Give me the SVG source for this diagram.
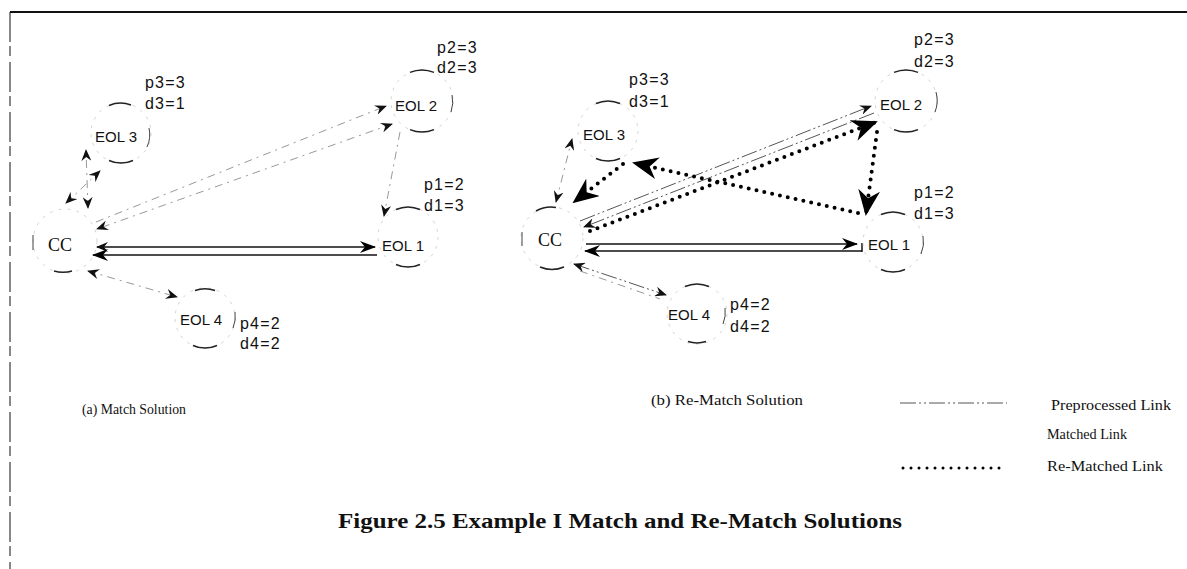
<svg xmlns="http://www.w3.org/2000/svg" width="1187" height="569" viewBox="0 0 1187 569">
<style>
.bg{fill:#fff}
.frame{stroke:#111;fill:none}
.ring{fill:none;stroke:#c8c8c8;stroke-width:0.8;stroke-dasharray:3 6}
.arc{fill:none;stroke:#222;stroke-width:1.5}
.side{fill:none;stroke:#444;stroke-width:1}
.lbl{font-family:"Liberation Sans",Arial,sans-serif;font-size:15px;fill:#111}
.val{font-family:"Liberation Sans",Arial,sans-serif;font-size:16px;fill:#111;letter-spacing:1.2px}
.cc{font-family:"Liberation Serif","Times New Roman",serif;font-size:18px;fill:#111}
.cap{font-family:"Liberation Serif","Times New Roman",serif;font-size:14px;fill:#111}
.leg{font-family:"Liberation Serif","Times New Roman",serif;font-size:14px;fill:#111}
.title{font-family:"Liberation Serif","Times New Roman",serif;font-size:22px;font-weight:bold;fill:#111}
.pre{fill:none;stroke:#555;stroke-width:1;stroke-dasharray:16 3 2 3 2 3}
.faint{fill:none;stroke:#999;stroke-width:1;stroke-dasharray:8 5 2 5}
.match{fill:none;stroke:#111;stroke-width:1.5}
.rem{fill:none;stroke:#000;stroke-width:4;stroke-dasharray:0 8;stroke-linecap:round}
.remleg{fill:none;stroke:#000;stroke-width:3;stroke-dasharray:0 8;stroke-linecap:round}
</style>
<defs>
<marker id="ah" viewBox="0 0 12 10" refX="11" refY="5" markerWidth="12" markerHeight="10" markerUnits="userSpaceOnUse" orient="auto-start-reverse"><path d="M0,0 L12,5 L0,10 L4,5 z" fill="#111"/></marker>
<marker id="ahm" viewBox="0 0 16 12" refX="15" refY="6" markerWidth="16" markerHeight="12" markerUnits="userSpaceOnUse" orient="auto-start-reverse"><path d="M0,0 L16,6 L0,12 L5,6 z" fill="#000"/></marker>
<marker id="bh" viewBox="0 0 26 22" refX="24" refY="11" markerWidth="26" markerHeight="22" markerUnits="userSpaceOnUse" orient="auto-start-reverse"><path d="M0,0 L26,11 L0,22 L8,11 z" fill="#000"/></marker>
</defs>
<rect class="bg" x="0" y="0" width="1187" height="569"/>
<g id="frame">
<line class="frame" x1="10" y1="12" x2="1187" y2="12" stroke-width="2"/>
<line class="frame" x1="10" y1="12" x2="10" y2="569" stroke-width="1" stroke-dasharray="30 4 10 6"/>
</g>

<g id="connectors">
<!-- panel a -->
<line class="match" x1="97" y1="247" x2="375" y2="247" marker-start="url(#ah)" marker-end="url(#ahm)"/>
<line class="match" x1="377" y1="255" x2="93" y2="255" marker-end="url(#ahm)"/>
<line class="faint" x1="96" y1="222" x2="386" y2="106" marker-end="url(#ah)"/>
<line class="faint" x1="392" y1="124" x2="97" y2="229" marker-start="url(#ah)" marker-end="url(#ah)"/>
<line class="faint" x1="88" y1="208" x2="86" y2="150" marker-start="url(#ah)" marker-end="url(#ah)"/>
<line class="faint" x1="66" y1="203" x2="100" y2="171" marker-start="url(#ah)" marker-end="url(#ah)"/>
<line class="faint" x1="88" y1="271" x2="177" y2="297" marker-start="url(#ah)" marker-end="url(#ah)"/>
<line class="faint" x1="400" y1="132" x2="384" y2="216" marker-end="url(#ah)"/>
<!-- panel b -->
<line class="match" x1="586" y1="244" x2="857" y2="244" marker-end="url(#ahm)"/>
<line class="match" x1="862" y1="251" x2="585" y2="251" marker-end="url(#ahm)"/>
<line class="match" x1="862" y1="243" x2="862" y2="252"/>
<line class="pre" x1="580" y1="221" x2="871" y2="106" marker-end="url(#ah)"/>
<line class="pre" x1="874" y1="113" x2="584" y2="227" marker-end="url(#ah)"/>
<line class="rem" x1="590" y1="231" x2="876" y2="122" marker-end="url(#bh)"/>
<line class="rem" x1="877" y1="132" x2="866" y2="214" marker-end="url(#bh)"/>
<line class="rem" x1="858" y1="213" x2="634" y2="163" marker-end="url(#bh)"/>
<line class="rem" x1="623" y1="164" x2="574" y2="202" marker-end="url(#bh)"/>
<line class="pre" x1="574" y1="264" x2="666" y2="295" marker-start="url(#ah)" marker-end="url(#ah)"/>
<line class="faint" x1="580" y1="271" x2="660" y2="299"/>
<line class="faint" x1="556" y1="202" x2="572" y2="139" marker-start="url(#ah)" marker-end="url(#ah)"/>
</g>

<g id="a-cc">
<circle class="ring" cx="65" cy="241" r="32"/>
<path class="side" d="M33,235 L33,250"/>
<path class="arc" d="M54,271 A32,32 0 0 0 72,271"/>
<text class="cc" x="48" y="251">CC</text>
</g>
<g id="a-eol3">
<circle class="ring" cx="121" cy="133" r="30"/>
<path class="arc" d="M109,105.5 A30,30 0 0 1 131,105"/>
<path class="arc" d="M109,160.5 A30,30 0 0 0 133,160.5"/>
<path class="side" d="M149,128 A30,30 0 0 1 147,147"/>
<text class="lbl" x="95" y="142">EOL 3</text>
<text class="val" x="145" y="88">p3=3</text>
<text class="val" x="145" y="109">d3=1</text>
</g>
<g id="a-eol2">
<circle class="ring" cx="422" cy="101" r="31"/>
<path class="arc" d="M410,72.4 A31,31 0 0 1 434,72.4"/>
<path class="arc" d="M410,129.6 A31,31 0 0 0 434,129.6"/>
<path class="side" d="M452,95 A31,31 0 0 1 451,112"/>
<text class="lbl" x="395" y="111">EOL 2</text>
<text class="val" x="437" y="53">p2=3</text>
<text class="val" x="437" y="73">d2=3</text>
</g>
<g id="a-eol1">
<circle class="ring" cx="408" cy="237" r="30"/>
<path class="arc" d="M396,209.5 A30,30 0 0 1 420,209.5"/>
<path class="arc" d="M396,264.5 A30,30 0 0 0 420,264.5"/>
<text class="lbl" x="382" y="251">EOL 1</text>
<text class="val" x="424" y="190">p1=2</text>
<text class="val" x="424" y="211">d1=3</text>
</g>
<g id="a-eol4">
<circle class="ring" cx="205" cy="318" r="30"/>
<path class="arc" d="M195,290.5 A30,30 0 0 1 215,290.5"/>
<path class="arc" d="M193,345.5 A30,30 0 0 0 217,345.5"/>
<path class="side" d="M235,312 A30,30 0 0 1 233,328"/>
<text class="lbl" x="180" y="325">EOL 4</text>
<text class="val" x="240" y="329">p4=2</text>
<text class="val" x="240" y="349">d4=2</text>
</g>

<g id="b-cc">
<circle class="ring" cx="552" cy="238" r="31"/>
<path class="side" d="M522,232 L522,246"/>
<path class="arc" d="M536,211 A31,31 0 0 1 556,207.5"/>
<path class="arc" d="M540,267 A31,31 0 0 0 564,267"/>
<text class="cc" x="538" y="246">CC</text>
</g>
<g id="b-eol3">
<circle class="ring" cx="608" cy="131" r="30"/>
<path class="arc" d="M596,103.5 A30,30 0 0 1 620,103.5"/>
<path class="arc" d="M596,158.5 A30,30 0 0 0 620,158.5"/>
<text class="lbl" x="583" y="140">EOL 3</text>
<text class="val" x="629" y="85">p3=3</text>
<text class="val" x="629" y="107">d3=1</text>
</g>
<g id="b-eol2">
<circle class="ring" cx="906" cy="101" r="31"/>
<path class="arc" d="M894,72.4 A31,31 0 0 1 918,72.4"/>
<path class="arc" d="M894,129.6 A31,31 0 0 0 918,129.6"/>
<path class="side" d="M936,92 A31,31 0 0 1 935,112"/>
<text class="lbl" x="880" y="110">EOL 2</text>
<text class="val" x="914" y="45">p2=3</text>
<text class="val" x="914" y="67">d2=3</text>
</g>
<g id="b-eol1">
<circle class="ring" cx="893" cy="242" r="30"/>
<path class="arc" d="M881,214.5 A30,30 0 0 1 905,214.5"/>
<path class="arc" d="M881,269.5 A30,30 0 0 0 905,269.5"/>
<path class="side" d="M923,236 A30,30 0 0 1 921,254"/>
<text class="lbl" x="868" y="250">EOL 1</text>
<text class="val" x="914" y="198">p1=2</text>
<text class="val" x="914" y="219">d1=3</text>
</g>
<g id="b-eol4">
<circle class="ring" cx="697" cy="314" r="30"/>
<path class="arc" d="M685,286.5 A30,30 0 0 1 709,286.5"/>
<path class="arc" d="M688,341.5 A30,30 0 0 0 706,341.5"/>
<path class="side" d="M725,308 A30,30 0 0 1 723,324"/>
<text class="lbl" x="668" y="320">EOL 4</text>
<text class="val" x="730" y="310">p4=2</text>
<text class="val" x="730" y="332">d4=2</text>
</g>

<g id="captions">
<text class="cap" x="82" y="414" textLength="104" lengthAdjust="spacingAndGlyphs">(a)  Match Solution</text>
<text class="cap" x="651" y="405" textLength="152" lengthAdjust="spacingAndGlyphs">(b)  Re-Match Solution</text>
<text class="title" x="338" y="528" textLength="564" lengthAdjust="spacingAndGlyphs">Figure 2.5   Example I Match and Re-Match Solutions</text>
</g>

<g id="legend">
<line class="pre" x1="900" y1="403" x2="1007" y2="403"/>
<text class="leg" x="1051" y="410" textLength="120" lengthAdjust="spacingAndGlyphs">Preprocessed Link</text>
<text class="leg" x="1047" y="439" textLength="80" lengthAdjust="spacingAndGlyphs">Matched Link</text>
<line class="remleg" x1="903" y1="468" x2="1006" y2="468"/>
<text class="leg" x="1047" y="471" textLength="116" lengthAdjust="spacingAndGlyphs">Re-Matched Link</text>
</g>
</svg>
